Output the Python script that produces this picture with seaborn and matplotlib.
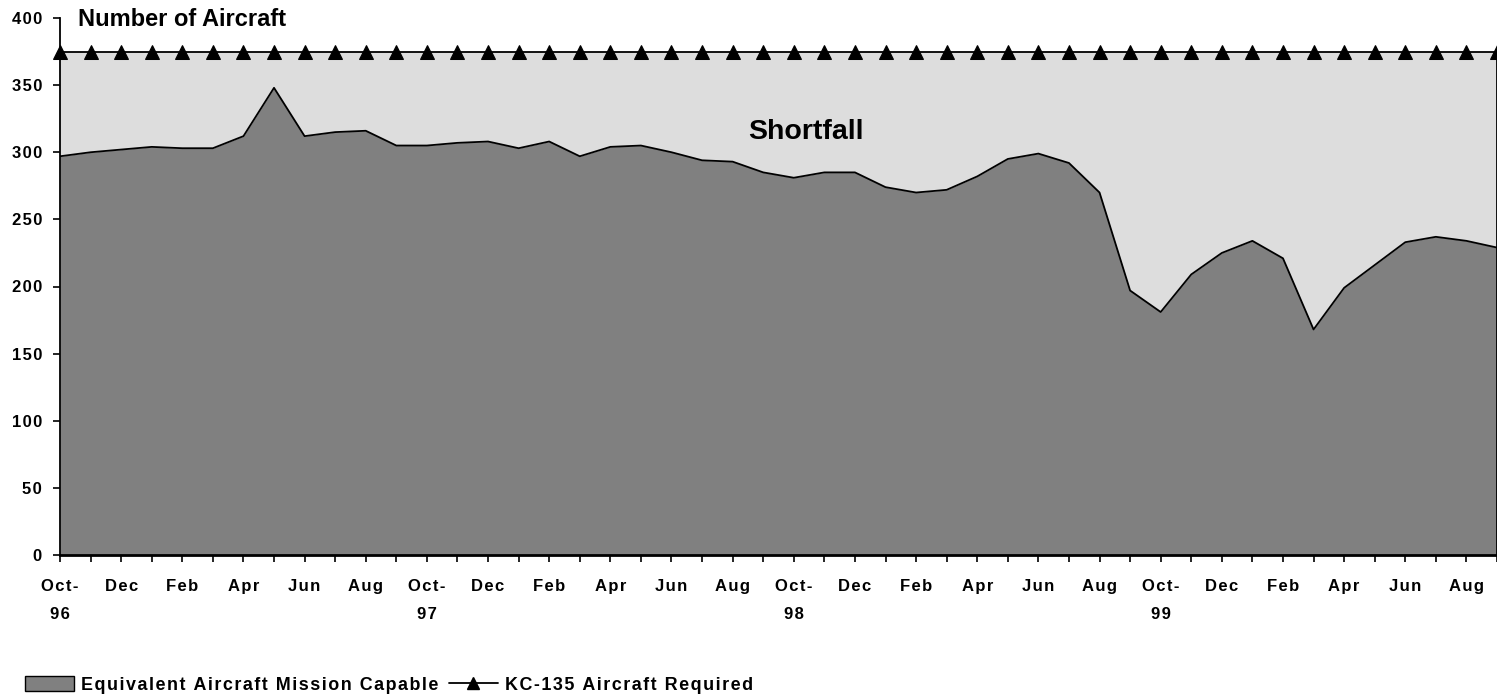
import matplotlib
matplotlib.use("Agg")
import matplotlib.pyplot as plt
import seaborn as sns
import pandas as pd
from matplotlib.patches import Patch
from matplotlib.lines import Line2D

# monthly values, Oct-96 .. Sep-00
months = ["Oct-96", "Nov-96", "Dec-96", "Jan-97", "Feb-97", "Mar-97", "Apr-97", "May-97",
          "Jun-97", "Jul-97", "Aug-97", "Sep-97", "Oct-97", "Nov-97", "Dec-97", "Jan-98",
          "Feb-98", "Mar-98", "Apr-98", "May-98", "Jun-98", "Jul-98", "Aug-98", "Sep-98",
          "Oct-98", "Nov-98", "Dec-98", "Jan-99", "Feb-99", "Mar-99", "Apr-99", "May-99",
          "Jun-99", "Jul-99", "Aug-99", "Sep-99", "Oct-99", "Nov-99", "Dec-99", "Jan-00",
          "Feb-00", "Mar-00", "Apr-00", "May-00", "Jun-00", "Jul-00", "Aug-00", "Sep-00"]

mission_capable = [297, 300, 302, 304, 303, 303, 312, 348, 312, 315,
                   316, 305, 305, 307, 308, 303, 308, 297, 304, 305,
                   300, 294, 293, 285, 281, 285, 285, 274, 270, 272,
                   282, 295, 299, 292, 270, 197, 181, 209, 225, 234,
                   221, 168, 199, 216, 233, 237, 234, 229]

required = [375, 375, 375, 375, 375, 375, 375, 375, 375, 375, 375, 375,
            375, 375, 375, 375, 375, 375, 375, 375, 375, 375, 375, 375,
            375, 375, 375, 375, 375, 375, 375, 375, 375, 375, 375, 375,
            375, 375, 375, 375, 375, 375, 375, 375, 375, 375, 375, 375]

x_labels = ["Oct-\n96", "Dec", "Feb", "Apr", "Jun", "Aug",
            "Oct-\n97", "Dec", "Feb", "Apr", "Jun", "Aug",
            "Oct-\n98", "Dec", "Feb", "Apr", "Jun", "Aug",
            "Oct-\n99", "Dec", "Feb", "Apr", "Jun", "Aug"]

y_ticks = [0, 50, 100, 150, 200, 250, 300, 350, 400]

series_names = ["Equivalent Aircraft Mission Capable", "KC-135 Aircraft Required"]

df = pd.DataFrame({"pos": range(len(months)), "month": months,
                   "mc": mission_capable, "req": required})


def spaced(s, sp="\u200a"):
    # the original chart uses letter-spaced labels
    return "\n".join(sp.join(line) for line in s.split("\n"))


sns.set_style("ticks")
plt.rcParams["font.family"] = ["Liberation Sans", "DejaVu Sans"]
plt.rcParams["font.weight"] = "bold"
plt.rcParams["text.color"] = "black"
plt.rcParams["xtick.color"] = "black"
plt.rcParams["ytick.color"] = "black"
plt.rcParams["axes.edgecolor"] = "black"

fig = plt.figure(figsize=(14.97, 6.96), dpi=100)
ax = fig.add_axes([60 / 1497, 1 - 555 / 696, 1 - 60 / 1497, (555 - 18) / 696])

# shortfall area and mission capable area
ax.fill_between(df["pos"], df["mc"], df["req"], color="#dddddd", lw=0)
ax.fill_between(df["pos"], 0, df["mc"], color="#808080", lw=0)
sns.lineplot(data=df, x="pos", y="mc", color="black", lw=1.3, ax=ax)
sns.lineplot(data=df, x="pos", y="req", color="black", lw=1.3, marker="^",
             markersize=10, markeredgecolor="black", ax=ax, clip_on=False)

ax.set_xlim(0, len(months) - 1)
ax.set_ylim(0, 400)
ax.set_yticks(y_ticks)
ax.set_yticklabels([spaced(str(v)) for v in y_ticks])
ax.set_xticks(df["pos"])
ax.set_xticklabels([spaced(x_labels[i // 2]) if i % 2 == 0 else "" for i in df["pos"]],
                   linespacing=2.1)
ax.tick_params(axis="x", length=5, width=1.2, pad=12, labelsize=12)
ax.tick_params(axis="y", length=5, width=1.2, pad=8, labelsize=12)
ax.set_xlabel("")
ax.set_ylabel("")

sns.despine(ax=ax, top=True, right=False)
ax.spines["right"].set_bounds(0, 375)
ax.spines["left"].set_linewidth(1.3)
ax.spines["bottom"].set_linewidth(2)
ax.spines["right"].set_linewidth(1.3)

fig.text(78 / 1497, 1 - 19 / 696, "Number of Aircraft", fontsize=17,
         fontweight="bold", va="center", ha="left")
ax.text(24.4, 315, "Shortfall", fontsize=20.5, fontweight="bold",
        ha="center", va="center")

handles = [Patch(facecolor="#808080", edgecolor="black", lw=1),
           Line2D([], [], color="black", lw=1.3, marker="^", markersize=9)]
fig.legend(handles, [spaced(n) for n in series_names],
           loc="center left", bbox_to_anchor=(25 / 1497, 1 - 685 / 696), ncol=2,
           frameon=False, fontsize=12.9, handlelength=2.75, handleheight=0.85,
           handletextpad=0.4, columnspacing=0.55, borderpad=0, borderaxespad=0)

fig.savefig("out.png", dpi=100)
